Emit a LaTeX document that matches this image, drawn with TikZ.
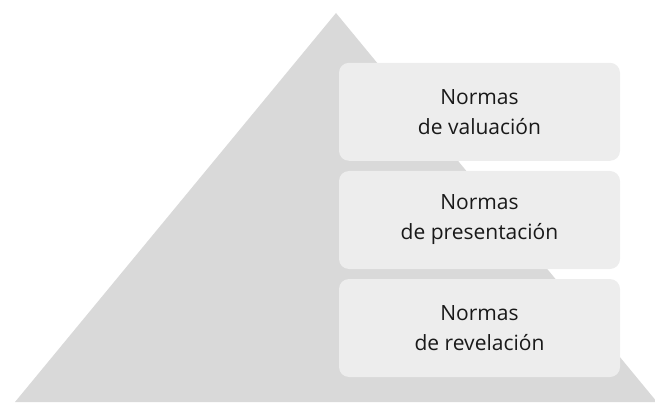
\documentclass[tikz,border=0pt]{standalone}
\usepackage{fontspec}
\setmainfont{Open Sans}
\begin{document}
\begin{tikzpicture}[x=1pt,y=1pt,
  level/.style={fill=boxgray, rounded corners=10pt, minimum width=281pt, minimum height=98pt,
    inner sep=0pt, align=center, font=\fontsize{21}{30}\selectfont, text=black!90}]
\definecolor{trigray}{HTML}{D9D9D9}
\definecolor{boxgray}{HTML}{EDEDED}
\useasboundingbox (0,0) rectangle (655,402);
\clip (0,0) rectangle (655,402);
\fill[trigray] (15,0) -- (336,389) -- (657,0) -- cycle;
\node[level] (valuacion) at (479.5,290.2) {Normas\\de valuación};
\node[level] (presentacion) at (479.5,182) {Normas\\de presentación};
\node[level] (revelacion) at (479.5,74) {Normas\\de revelación};
\end{tikzpicture}
\end{document}
